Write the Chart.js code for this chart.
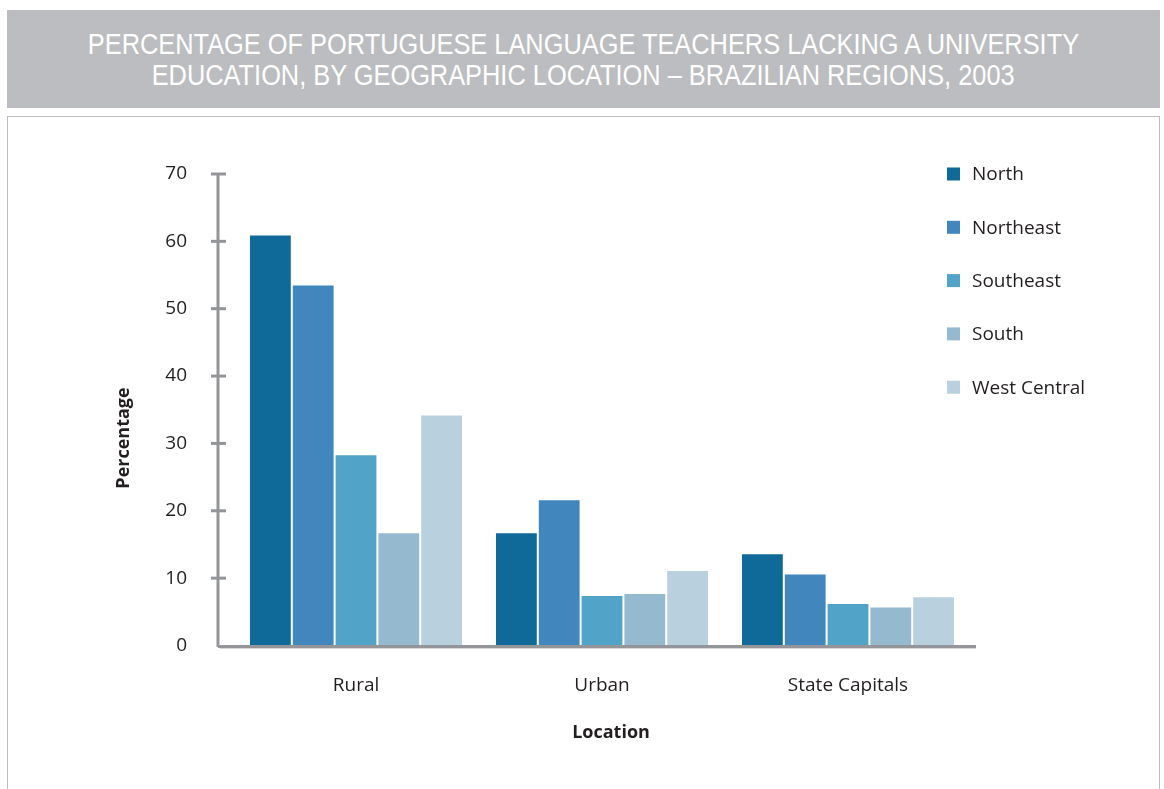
<!DOCTYPE html>
<html>
<head>
<meta charset="utf-8">
<script src="https://cdn.jsdelivr.net/npm/chart.js@4"></script>
<style>
  body { margin: 0; background: #fff; width: 1164px; height: 789px; overflow: hidden; position: relative; }
  #title {
    position: absolute; left: 7px; top: 10px; width: 1153px; height: 98px;
    background: #bcbdc0; color: #fff; text-align: center;
    font-family: "Liberation Sans", Arial, sans-serif; font-size: 29px;
    line-height: 31px; padding-top: 19px; box-sizing: border-box;
  }
  #title span { display: inline-block; transform: scaleX(0.875); white-space: nowrap; }
  #frame {
    position: absolute; left: 7px; top: 116px; width: 1153px; height: 700px;
    border: 1px solid #bcbec0; box-sizing: border-box;
  }
  #chart { position: absolute; left: 0; top: 0; }
</style>
</head>
<body>
<div id="title"><span>PERCENTAGE OF PORTUGUESE LANGUAGE TEACHERS LACKING A UNIVERSITY</span><br><span>EDUCATION, BY GEOGRAPHIC LOCATION – BRAZILIAN REGIONS, 2003</span></div>
<div id="frame"></div>
<canvas id="chart" width="1164" height="789"></canvas>
<script>
const locations = ['Rural', 'Urban', 'State Capitals'];
const regions = ['North', 'Northeast', 'Southeast', 'South', 'West Central'];
const north = [61.0, 16.8, 13.7];
const northeast = [53.6, 21.7, 10.7];
const southeast = [28.4, 7.5, 6.3];
const south = [16.8, 7.8, 5.8];
const westCentral = [34.3, 11.2, 7.3];
const regionColors = ['#106a99', '#4187bd', '#51a4c8', '#95b9cf', '#b9d1df'];
const yTicks = [0, 10, 20, 30, 40, 50, 60, 70];
const yTitle = 'Percentage';
const xTitle = 'Location';

const seriesValues = [north, northeast, southeast, south, westCentral];
const axisColor = '#939598';
const textColor = '#231f20';
const font = "'Open Sans', 'Noto Sans', sans-serif";

// axis lines, tick marks, axis titles and the legend on the right
const decorations = {
    id: 'decorations',
    afterDraw(chart) {
        const c = chart.ctx;
        const y = chart.scales.y;
        const area = chart.chartArea;
        const axisX = 218;
        c.save();
        c.strokeStyle = axisColor;
        c.lineWidth = 3;
        c.beginPath();
        c.moveTo(axisX, y.getPixelForValue(70));
        c.lineTo(axisX, y.getPixelForValue(0) + 1.5);
        c.stroke();
        yTicks.slice(1).forEach(v => {
            const py = y.getPixelForValue(v);
            c.beginPath();
            c.moveTo(axisX - 7, py);
            c.lineTo(axisX + 8, py);
            c.stroke();
        });
        c.beginPath();
        c.moveTo(axisX, area.bottom + 1);
        c.lineTo(area.right + 5, area.bottom + 1);
        c.stroke();
        c.strokeStyle = '#d6d7d9';
        c.lineWidth = 1;
        c.beginPath();
        c.moveTo(axisX + 2, area.bottom + 3);
        c.lineTo(area.right + 5, area.bottom + 3);
        c.stroke();

        c.fillStyle = textColor;
        c.font = 'bold 18px ' + font;
        c.textAlign = 'center';
        c.textBaseline = 'middle';
        c.fillText(xTitle, 611, 733);
        c.save();
        c.translate(124, 438);
        c.rotate(-Math.PI / 2);
        c.fillText(yTitle, 0, 0);
        c.restore();

        c.font = '19px ' + font;
        c.textAlign = 'left';
        chart.data.datasets.forEach((ds, i) => {
            const ly = 174 + i * 53.3;
            c.fillStyle = ds.backgroundColor;
            c.fillRect(947, ly - 6.5, 13, 13);
            c.fillStyle = textColor;
            c.fillText(ds.label, 972, ly + 1);
        });
        c.restore();
    }
};

new Chart(document.getElementById('chart'), {
    type: 'bar',
    data: {
        labels: locations,
        datasets: regions.map((r, i) => ({
            label: r,
            data: seriesValues[i],
            backgroundColor: regionColors[i],
            borderColor: 'rgba(255,255,255,0.45)',
            borderWidth: 1,
            borderSkipped: 'bottom'
        }))
    },
    options: {
        responsive: false,
        animation: false,
        categoryPercentage: 0.87,
        barPercentage: 1,
        layout: { padding: { left: 110, top: 174, right: 193, bottom: 40 } },
        plugins: { legend: { display: false }, tooltip: { enabled: false } },
        scales: {
            y: {
                min: 0, max: 70,
                afterFit: s => { s.width = 123; },
                afterBuildTicks: s => { s.ticks = yTicks.map(v => ({ value: v })); },
                grid: { display: false, drawTicks: false },
                border: { display: false },
                ticks: { padding: 46, color: textColor, font: { family: font, size: 19 } }
            },
            x: {
                afterFit: s => { s.height = 103.5; },
                grid: { display: false, drawTicks: false },
                border: { display: false },
                ticks: { padding: 29, color: textColor, font: { family: font, size: 19 } }
            }
        }
    },
    plugins: [decorations]
});
</script>
</body>
</html>
